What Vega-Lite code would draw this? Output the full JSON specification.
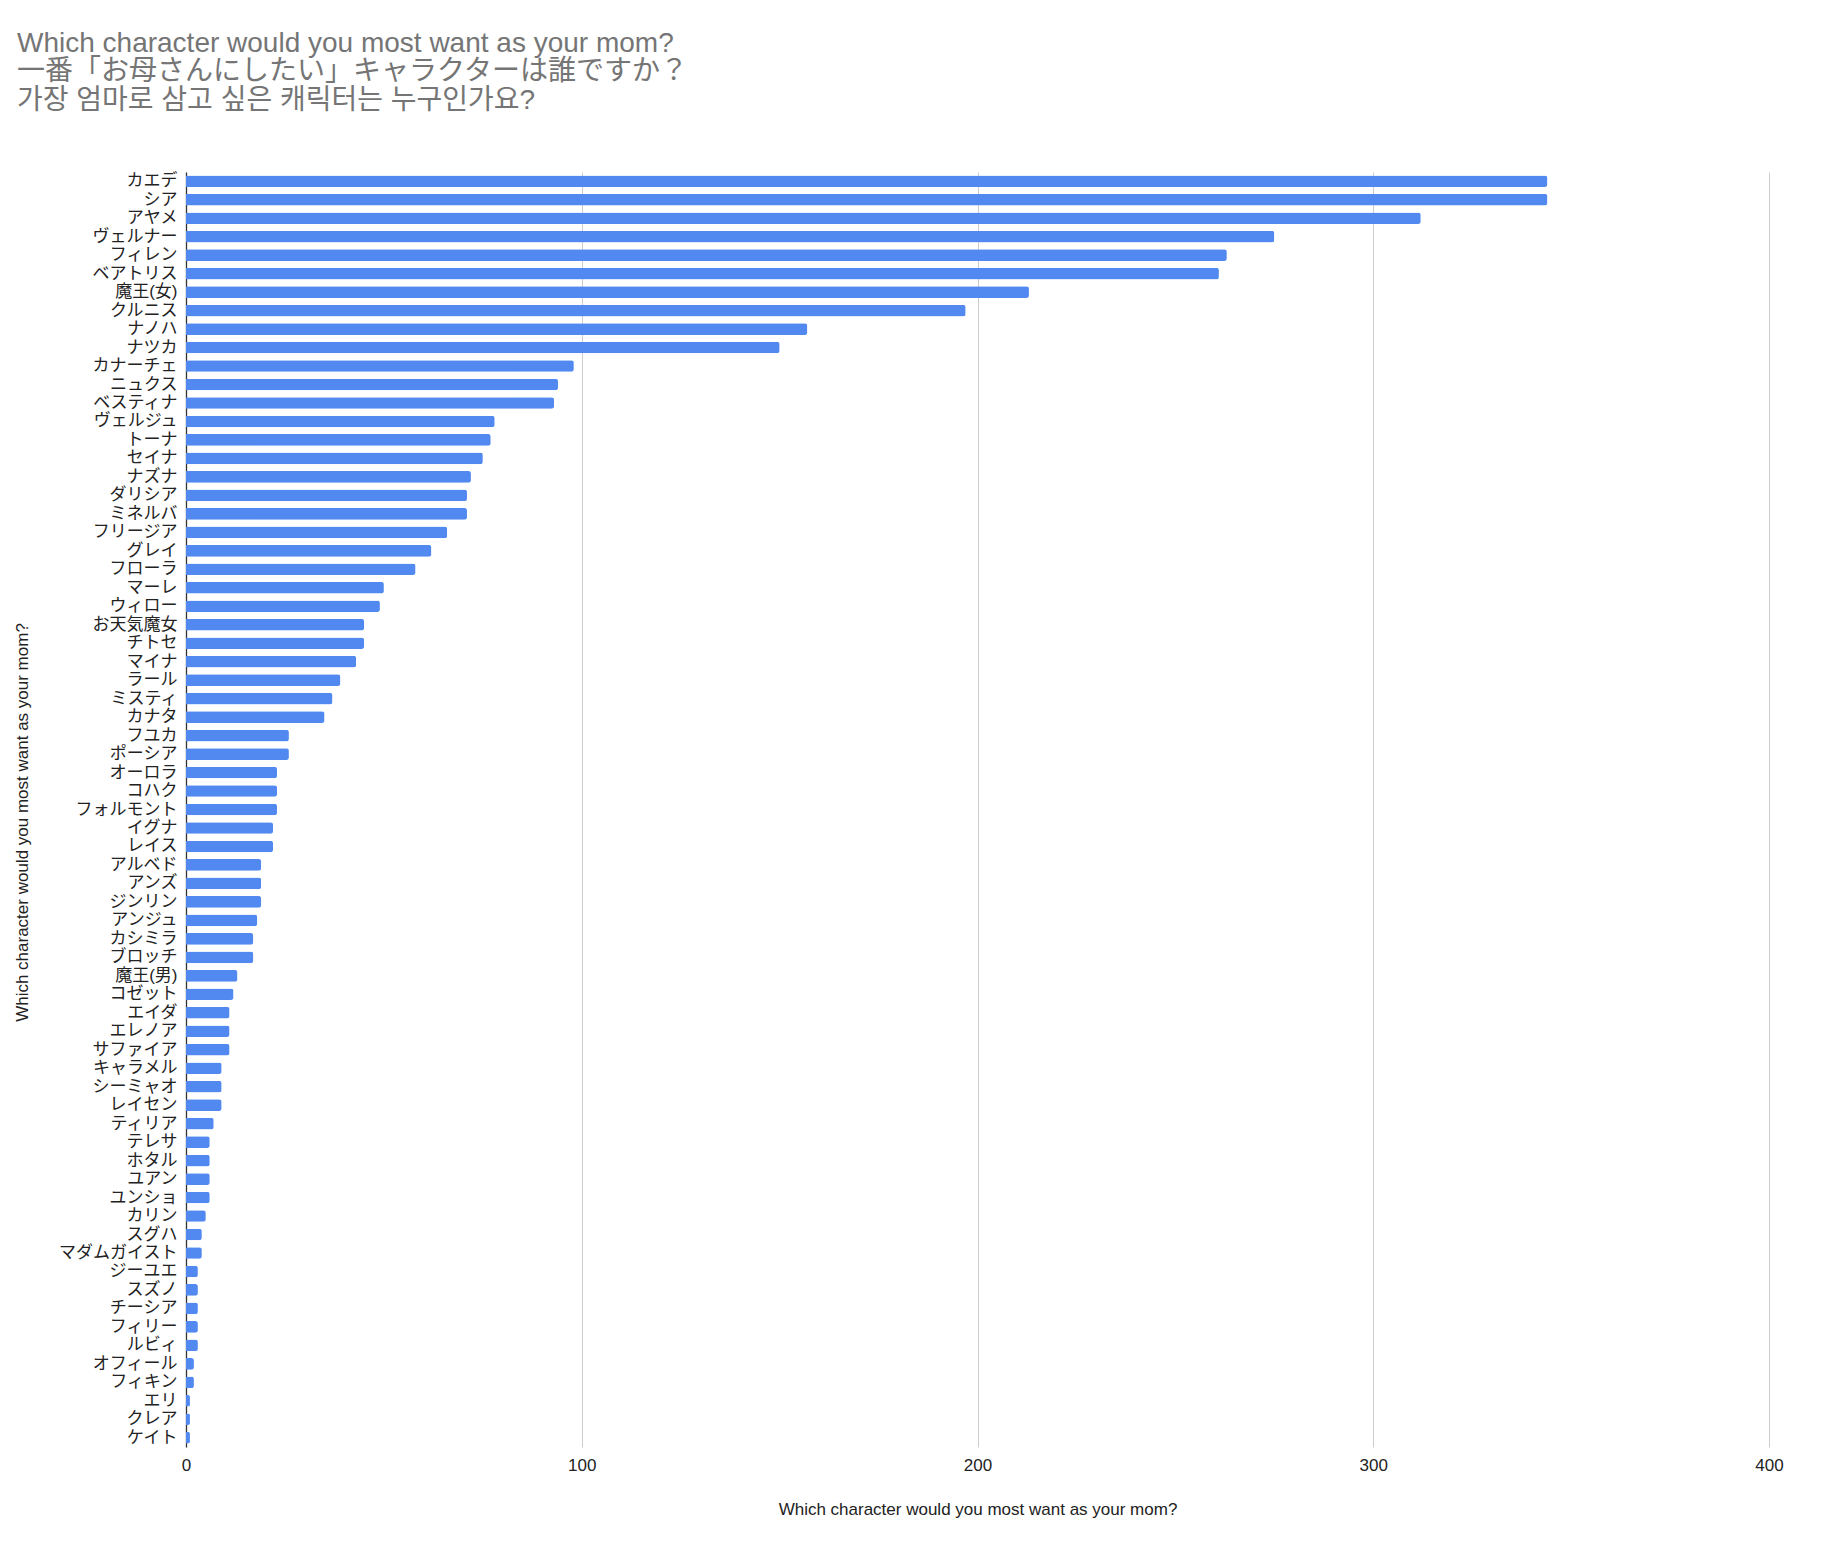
{
  "$schema": "https://vega.github.io/schema/vega-lite/v6.json",
  "autosize": "none",
  "width": 1583,
  "height": 1275,
  "padding": {"left": 186, "top": 172, "right": 53, "bottom": 95},
  "background": "white",
  "title": {
    "text": ["Which character would you most want as your mom?", "一番「お母さんにしたい」キャラクターは誰ですか？", "가장 엄마로 삼고 싶은 캐릭터는 누구인가요?"],
    "anchor": "start",
    "frame": "bounds",
    "font": "Liberation Sans, Noto Sans CJK JP",
    "fontSize": 28,
    "fontWeight": "normal",
    "color": "#757575",
    "lineHeight": 28.5,
    "offset": 57,
    "dx": 4
  },
  "data": {
    "values": [
      {"name": "カエデ", "votes": 344},
      {"name": "シア", "votes": 344},
      {"name": "アヤメ", "votes": 312},
      {"name": "ヴェルナー", "votes": 275},
      {"name": "フィレン", "votes": 263},
      {"name": "ベアトリス", "votes": 261},
      {"name": "魔王(女)", "votes": 213},
      {"name": "クルニス", "votes": 197},
      {"name": "ナノハ", "votes": 157},
      {"name": "ナツカ", "votes": 150},
      {"name": "カナーチェ", "votes": 98},
      {"name": "ニュクス", "votes": 94},
      {"name": "ベスティナ", "votes": 93},
      {"name": "ヴェルジュ", "votes": 78},
      {"name": "トーナ", "votes": 77},
      {"name": "セイナ", "votes": 75},
      {"name": "ナズナ", "votes": 72},
      {"name": "ダリシア", "votes": 71},
      {"name": "ミネルバ", "votes": 71},
      {"name": "フリージア", "votes": 66},
      {"name": "グレイ", "votes": 62},
      {"name": "フローラ", "votes": 58},
      {"name": "マーレ", "votes": 50},
      {"name": "ウィロー", "votes": 49},
      {"name": "お天気魔女", "votes": 45},
      {"name": "チトセ", "votes": 45},
      {"name": "マイナ", "votes": 43},
      {"name": "ラール", "votes": 39},
      {"name": "ミスティ", "votes": 37},
      {"name": "カナタ", "votes": 35},
      {"name": "フユカ", "votes": 26},
      {"name": "ポーシア", "votes": 26},
      {"name": "オーロラ", "votes": 23},
      {"name": "コハク", "votes": 23},
      {"name": "フォルモント", "votes": 23},
      {"name": "イグナ", "votes": 22},
      {"name": "レイス", "votes": 22},
      {"name": "アルベド", "votes": 19},
      {"name": "アンズ", "votes": 19},
      {"name": "ジンリン", "votes": 19},
      {"name": "アンジュ", "votes": 18},
      {"name": "カシミラ", "votes": 17},
      {"name": "ブロッチ", "votes": 17},
      {"name": "魔王(男)", "votes": 13},
      {"name": "コゼット", "votes": 12},
      {"name": "エイダ", "votes": 11},
      {"name": "エレノア", "votes": 11},
      {"name": "サファイア", "votes": 11},
      {"name": "キャラメル", "votes": 9},
      {"name": "シーミャオ", "votes": 9},
      {"name": "レイセン", "votes": 9},
      {"name": "ティリア", "votes": 7},
      {"name": "テレサ", "votes": 6},
      {"name": "ホタル", "votes": 6},
      {"name": "ユアン", "votes": 6},
      {"name": "ユンショ", "votes": 6},
      {"name": "カリン", "votes": 5},
      {"name": "スグハ", "votes": 4},
      {"name": "マダムガイスト", "votes": 4},
      {"name": "ジーユエ", "votes": 3},
      {"name": "スズノ", "votes": 3},
      {"name": "チーシア", "votes": 3},
      {"name": "フィリー", "votes": 3},
      {"name": "ルビィ", "votes": 3},
      {"name": "オフィール", "votes": 2},
      {"name": "フィキン", "votes": 2},
      {"name": "エリ", "votes": 1},
      {"name": "クレア", "votes": 1},
      {"name": "ケイト", "votes": 1}
    ]
  },
  "mark": {"type": "bar", "color": "#5189f1", "cornerRadiusEnd": 2.5},
  "encoding": {
    "y": {
      "field": "name",
      "type": "nominal",
      "sort": null,
      "scale": {"paddingInner": 0.37, "paddingOuter": 0.185},
      "axis": {
        "title": "Which character would you most want as your mom?",
        "titleFont": "Liberation Sans",
        "titleFontSize": 17,
        "titleFontWeight": "normal",
        "titleColor": "#222222",
        "titlePadding": 27,
        "titleY": 650,
        "labelFont": "Liberation Sans, Noto Sans CJK JP",
        "labelFontSize": 17,
        "labelColor": "#222222",
        "labelPadding": 9,
        "ticks": false,
        "domainColor": "#333333",
        "domainWidth": 1.3,
        "grid": false
      }
    },
    "x": {
      "field": "votes",
      "type": "quantitative",
      "scale": {"domain": [0, 400], "nice": false},
      "axis": {
        "values": [0, 100, 200, 300, 400],
        "title": "Which character would you most want as your mom?",
        "titleFont": "Liberation Sans",
        "titleFontSize": 17,
        "titleFontWeight": "normal",
        "titleColor": "#222222",
        "titlePadding": 28,
        "labelFont": "Liberation Sans",
        "labelFontSize": 17,
        "labelColor": "#222222",
        "labelPadding": 10,
        "labelFlush": false,
        "labelOverlap": false,
        "ticks": false,
        "domain": false,
        "grid": true,
        "gridColor": "#cccccc",
        "gridWidth": 1
      }
    }
  },
  "config": {"view": {"stroke": null}}
}
